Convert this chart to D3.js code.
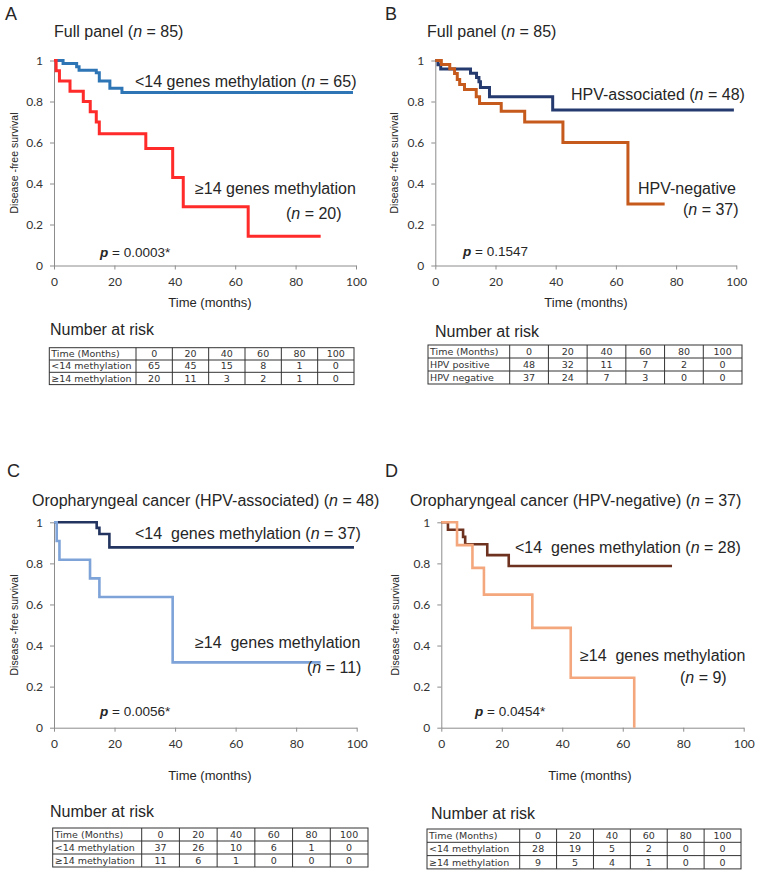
<!DOCTYPE html>
<html><head><meta charset="utf-8">
<script src="https://cdn.jsdelivr.net/npm/d3@7"></script>
<style>body{margin:0;background:#fff} svg{display:block} text{white-space:pre}</style>
</head><body>
<svg id="c" width="757" height="889"></svg>
<script>
// ---------- data ----------
const xTicks = [0, 20, 40, 60, 80, 100];
const yTicks = [0, 0.2, 0.4, 0.6, 0.8, 1];
const riskTimes = ["0", "20", "40", "60", "80", "100"];

// Panel A: full panel by methylation
const aLowTime  = [0, 3, 7.5, 8.3, 14, 15, 18.5, 22.5];
const aLowSurv  = [1, 0.985, 0.97, 0.953, 0.94, 0.9, 0.865, 0.844];
const aLowEnd   = 99;
const aHighTime = [0, 0.7, 1.8, 5.3, 9.7, 12, 14, 15, 30.4, 39.3, 42.8, 64.3];
const aHighSurv = [1, 0.95, 0.9, 0.85, 0.8, 0.75, 0.7, 0.643, 0.571, 0.429, 0.286, 0.143];
const aHighEnd  = 88.3;
const aRiskLow  = [65, 45, 15, 8, 1, 0];
const aRiskHigh = [20, 11, 3, 2, 1, 0];

// Panel B: full panel by HPV status
const bPosTime = [0, 0.9, 1.8, 11.7, 13.7, 14.5, 15, 18, 39];
const bPosSurv = [1, 0.979, 0.958, 0.938, 0.917, 0.896, 0.868, 0.823, 0.758];
const bPosEnd  = 99.2;
const bNegTime = [0, 2, 4.8, 6.4, 7.3, 8.1, 9.7, 13.6, 14.7, 21.9, 29.7, 42.4, 64];
const bNegSurv = [1, 0.98, 0.96, 0.937, 0.907, 0.883, 0.859, 0.823, 0.79, 0.753, 0.70, 0.60, 0.30];
const bNegEnd  = 76.2;
const bRiskPos = [48, 32, 11, 7, 2, 0];
const bRiskNeg = [37, 24, 7, 3, 0, 0];

// Panel C: HPV-associated by methylation
const cLowTime  = [0, 14.1, 15, 18.3];
const cLowSurv  = [1, 0.973, 0.943, 0.878];
const cLowEnd   = 99.1;
const cHighTime = [0, 0.9, 1.8, 11.9, 15, 39.2];
const cHighSurv = [1, 0.909, 0.818, 0.727, 0.636, 0.318];
const cHighEnd  = 88.1;
const cRiskLow  = [37, 26, 10, 6, 1, 0];
const cRiskHigh = [11, 6, 1, 0, 0, 0];

// Panel D: HPV-negative by methylation
const dLowTime  = [0, 2.2, 7.2, 7.9, 15.2, 22.3];
const dLowSurv  = [1, 0.964, 0.929, 0.893, 0.84, 0.787];
const dLowEnd   = 76.3;
const dHighTime = [0, 5.2, 10.3, 14.1, 30.1, 42.8, 63.8];
const dHighSurv = [1, 0.889, 0.778, 0.648, 0.486, 0.243, 0];
const dHighEnd  = 63.8;
const dRiskLow  = [28, 19, 5, 2, 0, 0];
const dRiskHigh = [9, 5, 4, 1, 0, 0];

// ---------- drawing ----------
const svg = d3.select("#c");
const SANS = "'Liberation Sans', Arial, sans-serif";
const TICKF = "Lato, 'Liberation Sans', sans-serif";
const TBLF = "'DejaVu Sans', Verdana, sans-serif";
const TXT = "#262626";

function richText(g, x, y, parts, size, anchor) {
  const t = g.append("text").attr("x", x).attr("y", y)
    .attr("font-family", SANS).attr("font-size", size).attr("fill", TXT)
    .attr("text-anchor", anchor || "start");
  parts.forEach(p => {
    const s = t.append("tspan").text(p.t);
    if (p.i) s.attr("font-style", "italic");
    if (p.b) s.attr("font-weight", "bold");
  });
  return t;
}

function drawPanel(p) {
  const g = svg.append("g");
  const x = d3.scaleLinear().domain([0, 100]).range([p.x0, p.x1]);
  const y = d3.scaleLinear().domain([0, 1]).range([p.y0, p.y1]);

  // letter + title
  g.append("text").attr("x", p.letter[0]).attr("y", p.letter[1]).text(p.letterText)
    .attr("font-family", SANS).attr("font-size", 18).attr("fill", TXT);
  richText(g, p.title[0], p.title[1], p.titleParts, 16);

  // axes
  const ax = g.append("g").attr("transform", `translate(0,${p.y0})`)
    .call(d3.axisBottom(x).tickValues(xTicks).tickSize(4).tickSizeOuter(0).tickPadding(8));
  const ay = g.append("g").attr("transform", `translate(${p.x0},0)`)
    .call(d3.axisLeft(y).tickValues(yTicks).tickSize(4).tickSizeOuter(0).tickPadding(7).tickFormat(d3.format("")));
  [ax, ay].forEach(a => {
    a.selectAll("path,line").attr("stroke", "#8c8c8c").attr("stroke-width", 1);
    a.selectAll("text").attr("font-family", TICKF).attr("font-size", 12).attr("fill", "#333");
  });

  // y label
  g.append("text").attr("transform", `translate(${p.ylabX},${(p.y0 + p.y1) / 2}) rotate(-90)`)
    .attr("text-anchor", "middle").attr("font-family", SANS).attr("font-size", 10.5)
    .attr("fill", TXT).text("Disease -free survival");
  // x label
  g.append("text").attr("x", p.xlab[0]).attr("y", p.xlab[1]).attr("text-anchor", "middle")
    .attr("font-family", SANS).attr("font-size", 13).attr("fill", TXT).text("Time (months)");

  // curves
  const line = d3.line().x(d => x(d[0])).y(d => y(d[1])).curve(d3.curveStepAfter);
  p.series.forEach(s => {
    const pts = s.time.map((t, i) => [t, s.surv[i]]);
    if (s.end > s.time[s.time.length - 1]) pts.push([s.end, s.surv[s.surv.length - 1]]);
    g.append("path").attr("d", line(pts)).attr("fill", "none")
      .attr("stroke", s.color).attr("stroke-width", p.lw).attr("stroke-linejoin", "miter");
  });

  // labels
  p.labels.forEach(l => richText(g, l.x, l.y, l.parts, 16));
  richText(g, p.pval[0], p.pval[1], [{t: "p", b: 1, i: 1}, {t: " = " + p.pvalText}], 13.5);

  // number at risk table
  const T = p.table;
  richText(g, T.nar[0], T.nar[1], [{t: "Number at risk"}], 16);
  const rows = [["Time (Months)", riskTimes], [T.r1name, T.r1], [T.r2name, T.r2]];
  const colW = (T.right - T.div) / riskTimes.length;
  const tg = g.append("g");
  rows.forEach((r, ri) => {
    const yy = T.top + T.rh * ri + T.rh / 2 + 3.3;
    tg.append("text").attr("x", T.left + 2).attr("y", yy).text(r[0])
      .attr("font-family", TBLF).attr("font-size", 9.5).attr("fill", "#333");
    r[1].forEach((v, ci) => {
      tg.append("text").attr("x", T.div + colW * ci + colW / 2).attr("y", yy).text(v)
        .attr("text-anchor", "middle").attr("font-family", TBLF).attr("font-size", 9.5).attr("fill", "#333");
    });
  });
  const H = T.rh * 3;
  tg.append("rect").attr("x", T.left).attr("y", T.top).attr("width", T.right - T.left).attr("height", H)
    .attr("fill", "none").attr("stroke", "#333").attr("stroke-width", 1);
  for (let i = 1; i < 3; i++)
    tg.append("line").attr("x1", T.left).attr("x2", T.right).attr("y1", T.top + T.rh * i).attr("y2", T.top + T.rh * i)
      .attr("stroke", "#333").attr("stroke-width", 1);
  for (let i = 0; i < riskTimes.length; i++)
    tg.append("line").attr("x1", T.div + colW * i).attr("x2", T.div + colW * i).attr("y1", T.top).attr("y2", T.top + H)
      .attr("stroke", "#333").attr("stroke-width", 1);
}

const methLowName = "<14 methylation", methHighName = "\u226514 methylation";

drawPanel({
  letterText: "A", letter: [5, 20], title: [54, 37],
  titleParts: [{t: "Full panel ("}, {t: "n", i: 1}, {t: " = 85)"}],
  x0: 54, x1: 356, y0: 265.5, y1: 60.5, ylabX: 18, xlab: [210, 307], lw: 3,
  series: [
    {time: aLowTime, surv: aLowSurv, end: aLowEnd, color: "#2e75b6"},
    {time: aHighTime, surv: aHighSurv, end: aHighEnd, color: "#ff2a2a"}],
  labels: [
    {x: 135, y: 87, parts: [{t: "<14 genes methylation ("}, {t: "n", i: 1}, {t: " = 65)"}]},
    {x: 195, y: 194, parts: [{t: "\u226514 genes methylation"}]},
    {x: 286, y: 219, parts: [{t: "("}, {t: "n", i: 1}, {t: " = 20)"}]}],
  pval: [100, 257], pvalText: "0.0003*",
  table: {nar: [50, 335], left: 49.3, div: 136, right: 354, top: 347.7, rh: 12.3,
    r1name: methLowName, r1: aRiskLow, r2name: methHighName, r2: aRiskHigh}
});

drawPanel({
  letterText: "B", letter: [385, 20], title: [427, 37],
  titleParts: [{t: "Full panel ("}, {t: "n", i: 1}, {t: " = 85)"}],
  x0: 435.3, x1: 736.3, y0: 265.5, y1: 60.5, ylabX: 398, xlab: [586, 307], lw: 3,
  series: [
    {time: bPosTime, surv: bPosSurv, end: bPosEnd, color: "#253a6e"},
    {time: bNegTime, surv: bNegSurv, end: bNegEnd, color: "#c55a1c"}],
  labels: [
    {x: 571, y: 100, parts: [{t: "HPV-associated ("}, {t: "n", i: 1}, {t: " = 48)"}]},
    {x: 638, y: 194, parts: [{t: "HPV-negative"}]},
    {x: 683, y: 215, parts: [{t: "("}, {t: "n", i: 1}, {t: " = 37)"}]}],
  pval: [463, 256], pvalText: "0.1547",
  table: {nar: [435, 337], left: 428, div: 509.7, right: 742, top: 345, rh: 13,
    r1name: "HPV positive", r1: bRiskPos, r2name: "HPV negative", r2: bRiskNeg}
});

drawPanel({
  letterText: "C", letter: [7, 477], title: [32, 506],
  titleParts: [{t: "Oropharyngeal cancer (HPV-associated) ("}, {t: "n", i: 1}, {t: " = 48)"}],
  x0: 54, x1: 356.7, y0: 727.7, y1: 522.3, ylabX: 18, xlab: [210, 780], lw: 2.6,
  series: [
    {time: cLowTime, surv: cLowSurv, end: cLowEnd, color: "#22345f"},
    {time: cHighTime, surv: cHighSurv, end: cHighEnd, color: "#7ea3d9"}],
  labels: [
    {x: 135, y: 539, parts: [{t: "<14  genes methylation ("}, {t: "n", i: 1}, {t: " = 37)"}]},
    {x: 195, y: 648, parts: [{t: "\u226514  genes methylation"}]},
    {x: 307, y: 673, parts: [{t: "("}, {t: "n", i: 1}, {t: " = 11)"}]}],
  pval: [100, 716], pvalText: "0.0056*",
  table: {nar: [50, 817], left: 52.7, div: 141.7, right: 368, top: 828, rh: 13,
    r1name: methLowName, r1: cRiskLow, r2name: methHighName, r2: cRiskHigh}
});

drawPanel({
  letterText: "D", letter: [385, 477], title: [410, 506],
  titleParts: [{t: "Oropharyngeal cancer (HPV-negative) ("}, {t: "n", i: 1}, {t: " = 37)"}],
  x0: 441.3, x1: 743.7, y0: 727.7, y1: 522.3, ylabX: 399, xlab: [590, 780], lw: 2.6,
  series: [
    {time: dLowTime, surv: dLowSurv, end: dLowEnd, color: "#6e3220"},
    {time: dHighTime, surv: dHighSurv, end: dHighEnd, color: "#f4a77c"}],
  labels: [
    {x: 515, y: 553, parts: [{t: "<14  genes methylation ("}, {t: "n", i: 1}, {t: " = 28)"}]},
    {x: 580, y: 661, parts: [{t: "\u226514  genes methylation"}]},
    {x: 680, y: 683, parts: [{t: "("}, {t: "n", i: 1}, {t: " = 9)"}]}],
  pval: [475, 716], pvalText: "0.0454*",
  table: {nar: [431, 819], left: 427, div: 519.7, right: 741, top: 829, rh: 13.3,
    r1name: methLowName, r1: dRiskLow, r2name: methHighName, r2: dRiskHigh}
});
</script>
</body></html>
